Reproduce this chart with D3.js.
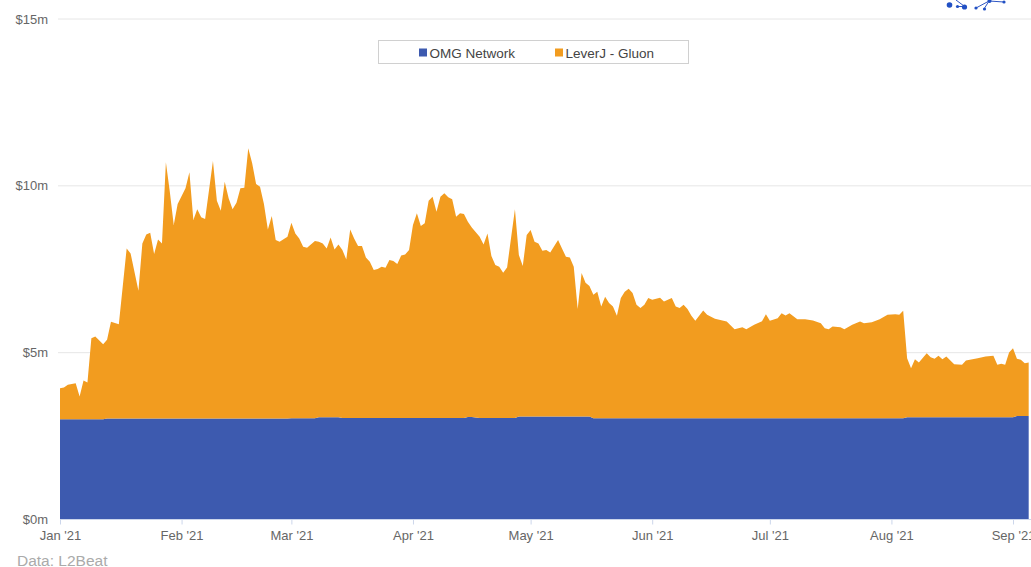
<!doctype html>
<html lang="en">
<head>
  <meta charset="utf-8">
  <title>OMG Network / LeverJ - Gluon</title>
  <style>
    html, body { margin: 0; padding: 0; background: #fff; overflow: hidden; }
    svg { display: block; font-family: "Liberation Sans", Arial, sans-serif; }
  </style>
</head>
<body>
<div id="chartDiv"></div>
<script src="https://d3js.org/d3.v7.min.js"></script>
<script>
// series names
var seriesNames = ["OMG Network", "LeverJ - Gluon"];

// dates of the points
var dates = [
  // Jan
  "2021-01-01","2021-01-02","2021-01-03","2021-01-05","2021-01-06","2021-01-07","2021-01-08","2021-01-09","2021-01-10","2021-01-12",
  "2021-01-13","2021-01-14","2021-01-16","2021-01-18","2021-01-19","2021-01-21","2021-01-22","2021-01-23","2021-01-24","2021-01-25",
  "2021-01-26","2021-01-27","2021-01-28","2021-01-29","2021-01-30","2021-01-31",
  // Feb
  "2021-02-02","2021-02-03","2021-02-04","2021-02-05","2021-02-06","2021-02-07","2021-02-09","2021-02-10","2021-02-11","2021-02-12",
  "2021-02-13","2021-02-14","2021-02-15","2021-02-16","2021-02-17","2021-02-18","2021-02-19","2021-02-20","2021-02-21","2021-02-22",
  "2021-02-23","2021-02-24","2021-02-25","2021-02-26","2021-02-28",
  // Mar
  "2021-03-01","2021-03-02","2021-03-03","2021-03-04","2021-03-05","2021-03-07",
  "2021-03-08","2021-03-09","2021-03-10","2021-03-11","2021-03-12","2021-03-13",
  "2021-03-14","2021-03-15","2021-03-16","2021-03-17","2021-03-18","2021-03-19","2021-03-20","2021-03-21","2021-03-22","2021-03-23",
  "2021-03-24","2021-03-25","2021-03-26","2021-03-27","2021-03-28","2021-03-29","2021-03-30","2021-03-31",
  // Apr
  "2021-04-01","2021-04-02","2021-04-03","2021-04-04","2021-04-05","2021-04-06","2021-04-07","2021-04-08","2021-04-09","2021-04-10",
  "2021-04-11","2021-04-12","2021-04-13","2021-04-14","2021-04-15","2021-04-16",
  "2021-04-18","2021-04-19","2021-04-20","2021-04-21","2021-04-22","2021-04-23","2021-04-24","2021-04-25","2021-04-27",
  "2021-04-28","2021-04-29","2021-04-30",
  // May
  "2021-05-01","2021-05-02","2021-05-03","2021-05-04","2021-05-05","2021-05-06","2021-05-08","2021-05-09","2021-05-10","2021-05-11",
  "2021-05-12","2021-05-13","2021-05-14","2021-05-15","2021-05-16",
  "2021-05-17","2021-05-18","2021-05-19","2021-05-20","2021-05-21","2021-05-22","2021-05-23","2021-05-24","2021-05-25","2021-05-26",
  "2021-05-27","2021-05-28","2021-05-29","2021-05-30","2021-05-31",
  // Jun
  "2021-06-01","2021-06-03","2021-06-04","2021-06-06","2021-06-07","2021-06-08","2021-06-09","2021-06-10","2021-06-11","2021-06-12",
  "2021-06-14","2021-06-15","2021-06-17","2021-06-20","2021-06-22","2021-06-24","2021-06-25","2021-06-27","2021-06-29","2021-06-30",
  // Jul
  "2021-07-01","2021-07-03","2021-07-04","2021-07-05","2021-07-06","2021-07-08","2021-07-10","2021-07-12","2021-07-14","2021-07-15",
  "2021-07-16","2021-07-17","2021-07-19","2021-07-20","2021-07-22","2021-07-24","2021-07-25","2021-07-27","2021-07-29","2021-07-31",
  // Aug
  "2021-08-02","2021-08-03","2021-08-04",
  "2021-08-05","2021-08-06","2021-08-07","2021-08-08","2021-08-10","2021-08-11","2021-08-12","2021-08-13","2021-08-14","2021-08-15",
  "2021-08-17","2021-08-19","2021-08-20","2021-08-23","2021-08-25","2021-08-27","2021-08-28","2021-08-29","2021-08-30","2021-08-31",
  // Sep
  "2021-09-01","2021-09-02","2021-09-03","2021-09-04","2021-09-05"
];

// OMG Network, $m
var omgValues = [
  // Jan
  2.99,2.99,2.99,2.99,2.99,2.99,2.99,2.99,2.99,2.99,
  3.01,3.01,3.01,3.01,3.01,3.01,3.01,3.01,3.01,3.01,
  3.01,3.01,3.01,3.01,3.01,3.01,
  // Feb
  3.01,3.01,3.01,3.01,3.01,3.01,3.01,3.01,3.01,3.01,
  3.01,3.01,3.01,3.01,3.01,3.01,3.01,3.01,3.01,3.01,
  3.01,3.01,3.01,3.01,3.01,
  // Mar
  3.02,3.02,3.02,3.02,3.02,3.02,
  3.05,3.05,3.05,3.05,3.05,3.05,
  3.03,3.03,3.03,3.03,3.03,3.03,3.03,3.03,3.03,3.03,
  3.03,3.03,3.03,3.03,3.03,3.03,3.03,3.03,
  // Apr
  3.03,3.03,3.03,3.03,3.03,3.03,3.03,3.03,3.03,3.03,
  3.03,3.03,3.03,3.03,3.06,3.06,
  3.03,3.03,3.03,3.03,3.03,3.03,3.03,3.03,3.03,
  3.07,3.07,3.07,
  // May
  3.07,3.07,3.07,3.07,3.07,3.07,3.07,3.07,3.07,3.07,
  3.07,3.07,3.07,3.07,3.07,
  3.02,3.02,3.02,3.02,3.02,3.02,3.02,3.02,3.02,3.02,
  3.02,3.02,3.02,3.02,3.02,
  // Jun
  3.02,3.02,3.02,3.02,3.02,3.02,3.02,3.02,3.02,3.02,
  3.02,3.02,3.02,3.02,3.02,3.02,3.02,3.02,3.02,3.02,
  // Jul
  3.02,3.02,3.02,3.02,3.02,3.02,3.02,3.02,3.02,3.02,
  3.02,3.02,3.02,3.02,3.02,3.02,3.02,3.02,3.02,3.02,
  // Aug
  3.02,3.02,3.02,
  3.05,3.05,3.05,3.05,3.05,3.05,3.05,3.05,3.05,3.05,
  3.05,3.05,3.05,3.05,3.05,3.05,3.05,3.05,3.05,3.05,
  // Sep
  3.05,3.09,3.09,3.09,3.09
];

// LeverJ - Gluon, $m (stacked on top of OMG Network)
var leverjValues = [
  // Jan
  0.93,0.95,1.03,1.08,0.68,1.16,1.10,2.43,2.48,2.25,
  2.36,2.90,2.83,5.10,4.95,3.83,5.25,5.52,5.57,4.93,
  5.37,5.25,7.68,6.80,5.80,6.43,
  // Feb
  6.90,7.38,5.95,6.27,6.03,5.98,7.72,6.53,6.23,7.10,
  6.60,6.27,6.47,6.90,6.92,8.10,7.65,7.03,6.95,6.43,
  5.67,6.07,5.35,5.30,5.45,
  // Mar
  5.86,5.54,5.39,5.14,5.11,5.31,
  5.26,5.21,5.06,5.39,5.03,5.18,
  5.03,4.75,5.65,5.38,5.15,5.15,4.81,4.68,4.43,4.46,
  4.53,4.50,4.73,4.70,4.61,4.87,4.90,5.03,
  // Apr
  5.78,6.13,5.75,5.83,6.51,6.63,6.18,6.63,6.73,6.61,
  6.55,6.03,6.13,6.11,5.85,5.68,
  5.43,5.20,5.53,4.85,4.58,4.53,4.35,4.51,6.25,
  4.84,4.51,5.44,
  // May
  5.59,5.24,5.19,4.97,4.99,4.92,5.29,5.04,4.79,4.77,
  4.49,3.22,4.30,4.01,3.91,
  3.70,3.79,3.35,3.64,3.45,3.35,3.07,3.60,3.79,3.88,
  3.75,3.40,3.30,3.40,3.60,
  // Jun
  3.55,3.61,3.50,3.60,3.35,3.30,3.40,3.27,3.07,2.92,
  3.23,3.10,2.98,2.90,2.67,2.73,2.67,2.80,2.91,3.12,
  // Jul
  2.92,3.00,3.15,3.08,3.15,2.97,2.97,2.93,2.85,2.70,
  2.67,2.75,2.73,2.67,2.80,2.90,2.85,2.88,2.97,3.10,
  // Aug
  3.12,3.10,3.22,
  1.77,1.47,1.74,1.64,1.92,1.80,1.75,1.84,1.74,1.82,
  1.59,1.57,1.70,1.77,1.82,1.84,1.57,1.60,1.57,1.94,
  // Sep
  2.07,1.71,1.68,1.58,1.60
];

var yTicks = [0, 5, 10, 15];
var monthTicks = ["2021-01-01","2021-02-01","2021-03-01","2021-04-01","2021-05-01","2021-06-01","2021-07-01","2021-08-01","2021-09-01"];
var colors = ["#3d5aaf", "#f29c1f"];
var sourceNote = "Data: L2Beat";

var width = 1031, height = 567;
var parseDate = d3.utcParse("%Y-%m-%d");

var table = dates.map(function(d, i) {
  return { date: parseDate(d), omg: omgValues[i], leverj: leverjValues[i] };
});

var x = d3.scaleUtc()
  .domain([parseDate("2021-01-01"), parseDate("2021-09-01")])
  .range([60, 1013]);
var y = d3.scaleLinear().domain([0, 15]).range([519, 18.5]);

var svg = d3.select("#chartDiv").append("svg")
  .attr("width", width)
  .attr("height", height);

svg.append("defs").append("clipPath").attr("id", "plotClip")
  .append("rect").attr("x", 60).attr("y", 0).attr("width", width - 60).attr("height", 520);

// gridlines
svg.append("g").selectAll("line")
  .data(yTicks.filter(function(d) { return d > 0; }))
  .enter().append("line")
  .attr("x1", 58).attr("x2", width)
  .attr("y1", function(d) { return y(d) + 0.5; })
  .attr("y2", function(d) { return y(d) + 0.5; })
  .attr("stroke", "#e6e6e6");

// stacked areas
var stack = d3.stack().keys(["omg", "leverj"]);
var series = stack(table);
var area = d3.area()
  .x(function(d) { return x(d.data.date); })
  .y0(function(d) { return y(d[0]); })
  .y1(function(d) { return y(d[1]); });

svg.append("g").attr("clip-path", "url(#plotClip)")
  .selectAll("path")
  .data(series)
  .enter().append("path")
  .attr("fill", function(d, i) { return colors[i]; })
  .attr("d", area);

// y labels
svg.append("g").selectAll("text")
  .data(yTicks)
  .enter().append("text")
  .attr("x", 48)
  .attr("y", function(d) { return y(d) + 5; })
  .attr("text-anchor", "end")
  .attr("font-size", 13)
  .attr("fill", "#666")
  .text(function(d) { return "$" + d + "m"; });

// x axis
var xAxis = d3.axisBottom(x)
  .tickValues(monthTicks.map(parseDate))
  .tickFormat(d3.utcFormat("%b '%y"))
  .tickSize(5)
  .tickSizeOuter(0)
  .tickPadding(6);
var gx = svg.append("g").attr("transform", "translate(0,519.5)").call(xAxis);
gx.select(".domain").attr("stroke", "#ccd6eb").attr("d", "M60,0H" + width);
gx.selectAll(".tick line").attr("stroke", "#ccd6eb");
gx.selectAll(".tick text")
  .attr("font-size", 13)
  .attr("font-family", "'Liberation Sans', Arial, sans-serif")
  .attr("fill", "#666");

// legend
var legend = svg.append("g");
legend.append("rect")
  .attr("x", 378.5).attr("y", 40.5).attr("width", 310).attr("height", 23)
  .attr("fill", "#fff").attr("stroke", "#d0d0d0");
var legendX = [419, 555];
seriesNames.forEach(function(name, i) {
  legend.append("rect")
    .attr("x", legendX[i]).attr("y", 48.5).attr("width", 8).attr("height", 8)
    .attr("fill", colors[i]);
  legend.append("text")
    .attr("x", legendX[i] + 10.5).attr("y", 57.5)
    .attr("font-size", 13.5)
    .attr("fill", "#444")
    .text(name);
});

// source note
svg.append("text")
  .attr("x", 17).attr("y", 566)
  .attr("font-size", 15.5)
  .attr("fill", "#aaa")
  .text(sourceNote);

// logo fragment in the top right corner
var logo = svg.append("g").attr("stroke", "#2f56c4").attr("fill", "#2150c4");
logo.append("path").attr("fill", "none").attr("stroke-width", 1)
  .attr("d", "M956,0L964,6M957,6.5H964M976,8L989,1M984,9L989,1M989,1L1004,2");
[[949.5,5,2.8],[957.5,6.5,1.6],[964.5,7,2.6],[976,8,1.6],[984.5,9,1.6],[989.5,1,2],[1004,2,1.6]].forEach(function(c) {
  logo.append("circle").attr("cx", c[0]).attr("cy", c[1]).attr("r", c[2]).attr("stroke", "none");
});
</script>
</body>
</html>
